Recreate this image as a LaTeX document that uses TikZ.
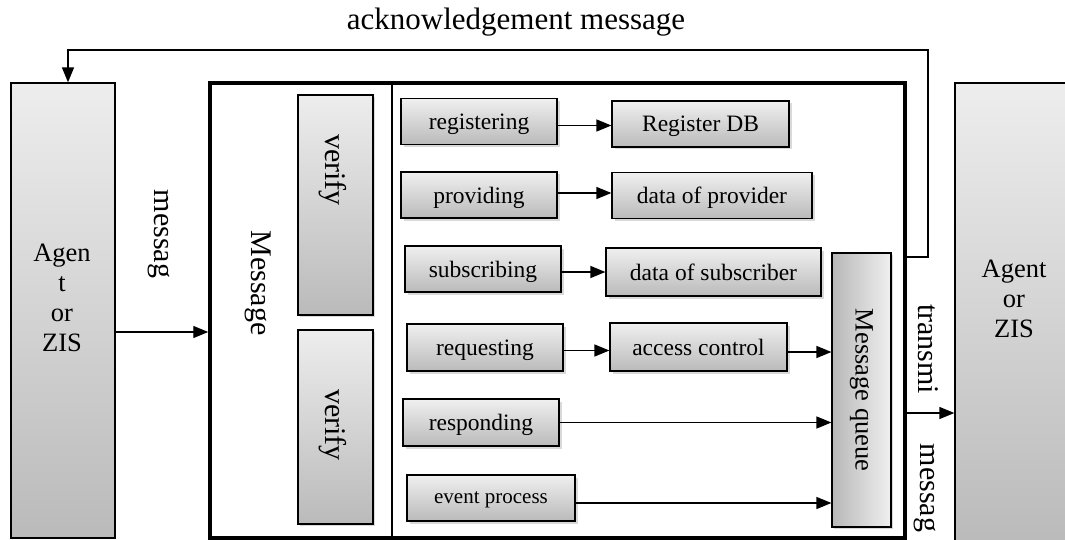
\documentclass[tikz,border=0pt]{standalone}
\usepackage{fontspec}
\setmainfont{Liberation Serif}
\newfontfamily\upfont{Liberation Serif}
\usetikzlibrary{shadows}
\usetikzlibrary{arrows.meta}
\tikzset{
  arr/.style={-{Stealth[length=15pt,width=12pt,inset=0pt]},line width=1.4pt},
  agentbox/.style={draw,line width=1.3pt,top color=black!7,bottom color=black!27,inner sep=0pt},
  agenttext/.style={align=center,inner sep=0pt,font=\fontsize{26.5}{30}\selectfont},
  vbox/.style={draw,line width=1.3pt,top color=black!7,bottom color=black!27,inner sep=0pt,minimum width=75pt,
    drop shadow={shadow xshift=2pt,shadow yshift=-2pt,opacity=.3}},
  proc/.style={draw,line width=1.2pt,top color=black!6,bottom color=black!27,inner sep=0pt,minimum height=46pt,
    text depth=0pt,font=\fontsize{23.5}{27}\selectfont,drop shadow={shadow xshift=2.5pt,shadow yshift=-2.5pt,opacity=.3}},
  rot/.style={rotate=-90,inner sep=0pt,font=\upfont\fontsize{30}{34}\selectfont}
}
\begin{document}
\begin{tikzpicture}[x=1pt,y=-1pt]
  \useasboundingbox (0,0) rectangle (1065,540);
  % agents on both sides
  \node[agentbox,minimum width=104pt,minimum height=455pt] (agL) at (63,310.5) {};
  \node[agenttext] (agLtxt) at (62,298) {Agen\\t\\or\\ZIS};
  \node[agentbox,minimum width=120pt,minimum height=462pt] (agR) at (1015,314) {};
  \node[agenttext] (agRtxt) at (1014,299) {Agent\\or\\ZIS};
  % the message handler
  \node[draw,line width=3.5pt,minimum width=695pt,minimum height=455pt,inner sep=0pt] (hub) at (557.5,310.5) {};
  \coordinate (div) at (392,0);
  \draw[line width=1.2pt] (hub.north -| div) -- (hub.south -| div);
  \node[rot] (hubname) at (258,283) {Message};
  \node[vbox,minimum height=220pt] (ver1) at (335.5,205) {};
  \node[rot] (ver1txt) at (333,170) {verify};
  \node[vbox,minimum height=194pt] (ver2) at (335.5,427) {};
  \node[rot] (ver2txt) at (333,425) {verify};
  % processes
  \node[proc,minimum width=156pt] (reg) at (479,121.5) {registering};
  \node[proc,minimum width=177pt] (regdb) at (700.5,124) {Register DB};
  \node[proc,minimum width=156pt] (prov) at (479,195) {providing};
  \node[proc,minimum width=200pt] (provdata) at (712,195.5) {data of provider};
  \node[proc,minimum width=156pt] (subs) at (483,269) {subscribing};
  \node[proc,minimum width=215pt,minimum height=48pt] (subsdata) at (713.5,272) {data of subscriber};
  \node[proc,minimum width=156pt,minimum height=47pt] (req) at (485,347.5) {requesting};
  \node[proc,minimum width=177pt,minimum height=48pt] (access) at (698.5,347) {access control};
  \node[proc,minimum width=156pt,minimum height=47pt] (resp) at (481,422.5) {responding};
  \node[proc,minimum width=168pt,font=\fontsize{21}{24}\selectfont] (event) at (491,498) {event process};
  \node[draw,line width=1.2pt,left color=black!28,right color=black!6,inner sep=0pt,minimum width=59pt,minimum height=274pt,
    drop shadow={shadow xshift=2pt,shadow yshift=-2pt,opacity=.3}] (queue) at (861.5,390) {};
  \node[rot,font=\upfont\fontsize{26.5}{30}\selectfont] (queuetxt) at (queue) {Message queue};
  % labels
  \node[font=\fontsize{31}{36}\selectfont,inner sep=0pt] (ack) at (516,22) {acknowledgement message};
  \node[rot] (msgin) at (159,234) {messag};
  \node[rot] (msgout1) at (928,349) {transmi};
  \node[rot] (msgout2) at (925,488) {messag};
  % connectors
  \coordinate (in) at ([yshift=-21.5pt]agL.east);
  \coordinate (out) at ([yshift=-102.5pt]hub.east);
  \coordinate (ackcorner) at (928,50);
  \path[arr]
    ([yshift=-4pt]reg.east) edge ([yshift=-4pt]reg.east -| regdb.west)
    ([yshift=2pt]prov.east) edge ([yshift=2pt]prov.east -| provdata.west)
    ([yshift=-3pt]subs.east) edge ([yshift=-3pt]subs.east -| subsdata.west)
    ([yshift=-3pt]req.east) edge ([yshift=-3pt]req.east -| access.west)
    ([yshift=-5pt]access.east) edge ([yshift=-5pt]access.east -| queue.west)
    (resp.east) edge (resp.east -| queue.west)
    ([yshift=-5pt]event.east) edge ([yshift=-5pt]event.east -| queue.west)
    (in) edge (in -| hub.west)
    (out) edge (out -| agR.west);
  \draw[arr] ([yshift=53.5pt]hub.east) -| (ackcorner) -| ([xshift=5pt]agL.north);
\end{tikzpicture}
\end{document}
